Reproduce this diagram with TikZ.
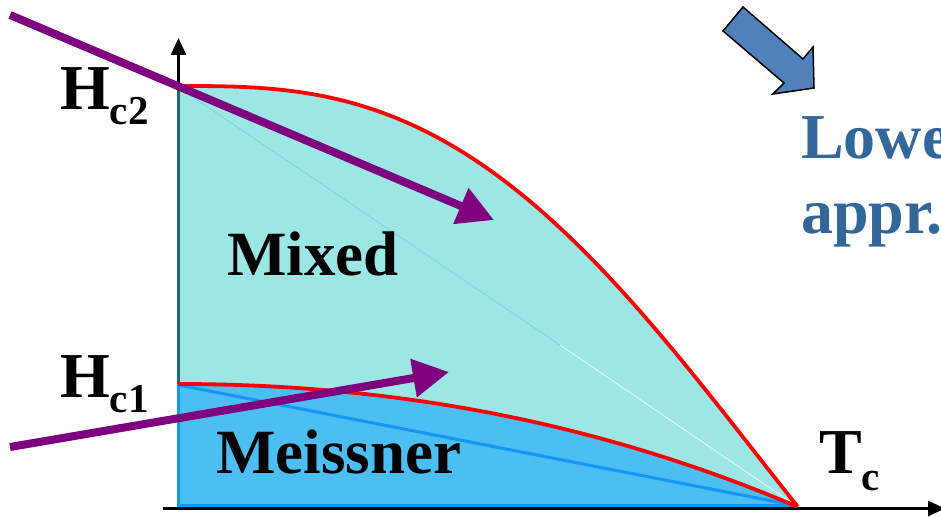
\documentclass[tikz,border=0pt]{standalone}
\usepackage{fontspec}
\setmainfont{Liberation Serif}
\usetikzlibrary{arrows.meta}
\definecolor{cyanfill}{HTML}{9CE6E6}
\definecolor{cyanline}{HTML}{78D8DA}
\definecolor{bluefill}{HTML}{4DBEF2}
\definecolor{blueline}{HTML}{1496F5}
\definecolor{tealaxis}{HTML}{1F6B6B}
\definecolor{purp}{HTML}{7F007F}
\definecolor{blockblue}{HTML}{4F81BD}
\definecolor{txtblue}{HTML}{336699}
\begin{document}
\begin{tikzpicture}[x=1pt,y=-1pt,
  lbl/.style={inner sep=0pt,anchor=base west,font=\bfseries\fontsize{64}{70}\selectfont},
  phase/.style={inner sep=0pt,anchor=base west,font=\bfseries\fontsize{63}{70}\selectfont},
  path/.style={draw=purp,line width=8pt,-{Triangle[length=36pt,width=37pt]}},
  redc/.style={draw=red,line width=3.8pt},
  axis/.style={draw=black,line width=2.5pt},
  crv/.style={domain=0:1,samples=80,smooth}]
\useasboundingbox (0,0) rectangle (941,516);
\fill[white] (0,0) rectangle (941,516);
% regions
\fill[cyanfill] (178,507) -- plot[crv] ({178+620*\x},{86+421*\x*\x*\x*(2.15-1.15*\x)}) -- cycle;
\draw[draw=cyanline,line width=0.8pt] (178,87) -- (560,345);
\draw[draw=white,line width=0.6pt] (560,345) -- (798,507);
\fill[bluefill] (178,507) -- plot[crv] ({178+620*\x},{384+123*\x*\x*(0.85+0.15*\x)}) -- cycle;
% axes
\draw[axis,-{Triangle[length=17pt,width=15pt]}] (163,508.5) -- (945,508.5);
\draw[axis,-{Triangle[length=17pt,width=15pt]}] (178.5,88) -- (178.5,38);
\draw[tealaxis,line width=3pt] (178.5,86) -- (178.5,385);
\draw[blueline,line width=3pt] (178.5,384) -- (178.5,505.5) -- (798,505.5);
\draw[blueline,line width=3pt] (178.5,385) -- (798,506);
% red curves
\draw[redc] plot[crv] ({178+620*\x},{86+421*\x*\x*\x*(2.15-1.15*\x)});
\draw[redc] plot[crv] ({178+620*\x},{384+123*\x*\x*(0.85+0.15*\x)});
% labels
\node[lbl] (hc2) at (60,110) {H\raisebox{-15pt}{\fontsize{41}{45}\selectfont c2}};
\node[lbl] (hc1) at (60,397) {H\raisebox{-15pt}{\fontsize{41}{45}\selectfont c1}};
\node[phase] (mixed) at (227,275) {Mixed};
\node[phase] (meissner) at (216,473) {Meissner};
\node[lbl] (tc) at (819,473) {T\raisebox{-17pt}{\fontsize{41}{45}\selectfont c}};
\node[lbl,text=txtblue] (lowe) at (801,158) {Lowe};
\node[lbl,text=txtblue] (appr) at (801,233) {appr.};
% purple arrows
\coordinate (a1s) at (10,15);
\coordinate (a1e) at (494,220);
\coordinate (a2s) at (10,447);
\coordinate (a2e) at (449,372);
\draw[path] (a1s) -- (a1e);
\draw[path] (a2s) -- (a2e);
% block arrow
\draw[fill=blockblue,draw=black,line width=1.5pt,line join=miter]
  (743,7) -- (803,59) -- (813,47) -- (814,88) -- (773,94) -- (784,83) -- (723,31) -- cycle;
\end{tikzpicture}
\end{document}
